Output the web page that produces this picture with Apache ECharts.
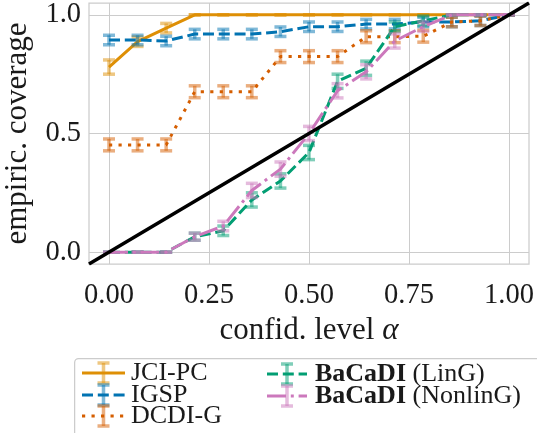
<!DOCTYPE html>
<html><head><meta charset="utf-8">
<script src="https://cdn.jsdelivr.net/npm/echarts@6/dist/echarts.min.js"></script>
<style>html,body{margin:0;padding:0;background:#fff}#c{width:537px;height:433px}</style>
</head><body><div id="c"></div>
<script>
// ---- data ----
const alphaLevels = [0, 0.0714, 0.1429, 0.2143, 0.2857, 0.3571, 0.4286, 0.5, 0.5714, 0.6429, 0.7143, 0.7857, 0.8571, 0.9286, 1.0];
const jciPC      = [0.78, 0.887, 0.944, 1, 1, 1, 1, 1, 1, 1, 1, 1, 1, 1, 1];
const jciPCErr   = [0.03, 0.02, 0.02, 0, 0, 0, 0, 0, 0, 0, 0, 0, 0, 0, 0];
const igsp       = [0.894, 0.894, 0.89, 0.919, 0.919, 0.919, 0.929, 0.95, 0.95, 0.961, 0.961, 0.97, 0.97, 0.975, 1.0];
const igspErr    = [0.02, 0.02, 0.02, 0.02, 0.02, 0.02, 0.02, 0.02, 0.02, 0.02, 0.02, 0.02, 0.02, 0.02, 0];
const dcdiG      = [0.452, 0.452, 0.452, 0.676, 0.676, 0.676, 0.824, 0.824, 0.824, 0.908, 0.908, 0.91, 0.97, 0.975, 1.0];
const dcdiGErr   = [0.025, 0.025, 0.025, 0.025, 0.025, 0.025, 0.025, 0.025, 0.025, 0.025, 0.025, 0.025, 0.02, 0.02, 0];
const bacadiLin  = [0, 0, 0, 0.065, 0.09, 0.22, 0.30, 0.42, 0.72, 0.775, 0.95, 0.975, 1, 1, 1];
const bacadiLinErr = [0, 0, 0, 0.015, 0.02, 0.03, 0.03, 0.03, 0.03, 0.03, 0.02, 0.02, 0, 0, 0];
const bacadiNonlin = [0, 0, 0, 0.065, 0.11, 0.26, 0.35, 0.50, 0.68, 0.76, 0.89, 0.95, 1, 1, 1];
const bacadiNonlinErr = [0, 0, 0, 0.015, 0.02, 0.03, 0.03, 0.03, 0.03, 0.03, 0.03, 0.02, 0, 0, 0];
const diagonal = [-0.05, 1.05];
const xTicks = [0, 0.25, 0.5, 0.75, 1.0];
const yTicks = [0, 0.5, 1.0];
const seriesNames = ['JCI-PC', 'IGSP', 'DCDI-G', 'BaCaDI (LinG)', 'BaCaDI (NonlinG)'];

// ---- styles ----
const FONT = '"Liberation Serif", "DejaVu Serif", serif';
const TXT = '#1a1a1a';
const GRID = '#cccccc';
const TR = 'rgba(0,0,0,0)';
const colors = ['#de8f05', '#0173b2', '#d55e00', '#029e73', '#cc78bc'];
const dashes = ['solid', [11, 4.8], [3.2, 6.3], [11, 4.8], [19, 4.8, 3, 4.8]];
const values = [jciPC, igsp, dcdiG, bacadiLin, bacadiNonlin];
const errs = [jciPCErr, igspErr, dcdiGErr, bacadiLinErr, bacadiNonlinErr];
const LEG_FS = 26;

function rgba(hex, a) {
  const n = parseInt(hex.slice(1), 16);
  return `rgba(${(n >> 16) & 255},${(n >> 8) & 255},${n & 255},${a})`;
}
function isTick(v, ticks) { return ticks.some(t => Math.abs(v - t) < 1e-6); }

const series = [];
values.forEach((ys, si) => {
  const c = colors[si];
  series.push({
    type: 'custom', name: seriesNames[si] + ' err', silent: true, z: 2 + si * 2,
    encode: { x: 0, y: [1, 2] },
    data: alphaLevels.map((x, i) => [x, ys[i] - errs[si][i], ys[i] + errs[si][i]]),
    renderItem(params, api) {
      const x = api.value(0);
      const lo = api.coord([x, api.value(1)]);
      const hi = api.coord([x, api.value(2)]);
      const w = 6;
      const style = { stroke: rgba(c, 0.5), lineWidth: 3.5, fill: null };
      return { type: 'group', children: [
        { type: 'line', shape: { x1: lo[0], y1: lo[1], x2: hi[0], y2: hi[1] }, style },
        { type: 'line', shape: { x1: lo[0] - w, y1: lo[1], x2: lo[0] + w, y2: lo[1] }, style },
        { type: 'line', shape: { x1: hi[0] - w, y1: hi[1], x2: hi[0] + w, y2: hi[1] }, style }
      ]};
    }
  });
  series.push({
    type: 'line', name: seriesNames[si], z: 3 + si * 2, symbol: 'none', silent: true,
    data: alphaLevels.map((x, i) => [x, ys[i]]),
    lineStyle: { color: c, width: 3, type: dashes[si], cap: 'butt' }
  });
});
series.push({
  type: 'line', name: 'diag', z: 20, symbol: 'none', silent: true,
  data: diagonal.map(v => [v, v]),
  lineStyle: { color: '#000000', width: 3.5 }
});

// ---- legend (graphic) ----
const graphic = [];
graphic.push({ type: 'rect', left: 74, top: 358, shape: { width: 500, height: 100, r: 4 },
  style: { fill: 'rgba(255,255,255,0.85)', stroke: GRID, lineWidth: 1.25 }, z: 100 });
const legPos = [[82, 125, 131, 373], [82, 125, 131, 395], [82, 125, 131, 416], [267, 307, 315, 374], [267, 307, 315, 396]];
seriesNames.forEach((nm, si) => {
  const [x1, x2, tx, y] = legPos[si];
  const cx = (x1 + x2) / 2;
  const c = colors[si];
  const es = { stroke: rgba(c, 0.5), lineWidth: 3.5 };
  graphic.push({ type: 'line', z: 101, shape: { x1: cx, y1: y - 10, x2: cx, y2: y + 10 }, style: es });
  graphic.push({ type: 'line', z: 101, shape: { x1: cx - 6, y1: y - 10, x2: cx + 6, y2: y - 10 }, style: es });
  graphic.push({ type: 'line', z: 101, shape: { x1: cx - 6, y1: y + 10, x2: cx + 6, y2: y + 10 }, style: es });
  graphic.push({ type: 'line', z: 102, shape: { x1: x1, y1: y, x2: x2, y2: y },
    style: { stroke: c, lineWidth: 3, lineDash: dashes[si] === 'solid' ? null : dashes[si] } });
  let text = nm, rich = undefined;
  if (nm.startsWith('BaCaDI')) {
    text = '{b|BaCaDI}{r|' + nm.slice(6) + '}';
    rich = { b: { fontFamily: FONT, fontSize: LEG_FS, fontWeight: 'bold', fill: TXT },
             r: { fontFamily: FONT, fontSize: LEG_FS, fill: TXT } };
  }
  graphic.push({ type: 'text', z: 103, x: tx, y: y,
    style: { text, fontFamily: FONT, fontSize: LEG_FS, fill: TXT, verticalAlign: 'middle', align: 'left', rich } });
});

const chart = echarts.init(document.getElementById('c'), null, { renderer: 'canvas' });
chart.setOption({
  backgroundColor: '#ffffff',
  animation: false,
  grid: { left: 89, right: 8, top: 3, bottom: 169, show: true, borderColor: GRID, borderWidth: 1.25,
          containLabel: false, outerBoundsMode: 'none' },
  xAxis: {
    type: 'value', min: -0.05, max: 1.05, interval: 0.05,
    axisLine: { show: false }, axisTick: { show: false },
    axisLabel: { fontFamily: FONT, fontSize: 28.5, color: TXT, margin: 17,
      formatter: v => isTick(v, xTicks) ? v.toFixed(2) : '' },
    splitLine: { show: true, lineStyle: { width: 1, color: [TR, GRID, TR, TR, TR] } },
    name: '{n|confid. level }{a|α}', nameLocation: 'middle', nameGap: 44,
    nameTextStyle: { rich: {
      n: { fontFamily: FONT, fontSize: 31, color: TXT },
      a: { fontFamily: FONT, fontSize: 31, color: TXT, fontStyle: 'italic' } } }
  },
  yAxis: {
    type: 'value', min: -0.05, max: 1.05, interval: 0.05,
    axisLine: { show: false }, axisTick: { show: false },
    axisLabel: { fontFamily: FONT, fontSize: 28.5, color: TXT, margin: 8,
      formatter: v => isTick(v, yTicks) ? v.toFixed(1) : '' },
    splitLine: { show: true, lineStyle: { width: 1, color: [TR, GRID, TR, TR, TR, TR, TR, TR, TR, TR] } },
    name: 'empiric. coverage', nameLocation: 'middle', nameGap: 56,
    nameTextStyle: { fontFamily: FONT, fontSize: 31, color: TXT }
  },
  series,
  graphic
});
</script></body></html>
